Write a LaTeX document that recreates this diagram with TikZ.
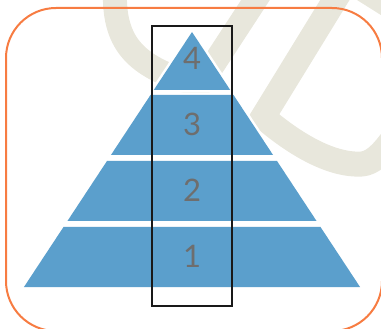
\documentclass[tikz,border=0pt]{standalone}
\usepackage{fontspec}
\setmainfont{Lato}
\definecolor{tierblue}{RGB}{91,159,204}
\definecolor{framecol}{RGB}{247,124,66}
\definecolor{markcol}{RGB}{232,231,220}
\definecolor{numgray}{RGB}{110,110,110}
\begin{document}
\begin{tikzpicture}[x=1pt, y=-1pt,
  tier/.style={fill=tierblue, draw=none, preaction={draw=white, line width=5pt}},
  tiernum/.style={text=numgray, inner sep=0pt, font=\fontsize{31}{31}\selectfont},
  frame/.style={draw=framecol, line width=2pt, rounded corners=50pt},
  watermark/.style={draw=markcol, line width=24pt},
  column/.style={draw=black!90, line width=2pt}]
\useasboundingbox (0,0) rectangle (381,329);
\clip (0,0) rectangle (381,329);
% faint logo behind
\draw[watermark] (115,-10) .. controls (113,42) and (135,64) .. (182,80) -- (200,85) -- (262,-10);
\draw[watermark, line width=25pt] (341,-10) -- (263,117) .. controls (292,142) and (330,166) .. (362,164) .. controls (372,163) and (381,155) .. (392,140);
\fill[markcol] (357,0) -- (392,22) -- (392,0) -- cycle;
% frame
\draw[frame] (6,8) rectangle (382,331);
% pyramid
\foreach \ya/\yb/\yl/\lab in {32/90/58/4, 95/155/124/3, 161/221/190/2, 227/287/256/1} {
  \pgfmathsetmacro\wa{(\ya-32)*0.659}
  \pgfmathsetmacro\wb{(\yb-32)*0.659}
  \fill[tier] (192-\wa,\ya) -- (192+\wa,\ya) -- (192+\wb,\yb) -- (192-\wb,\yb) -- cycle;
  \node[tiernum] (n\lab) at (192,\yl) {\lab};
}
% highlighted column
\draw[column] (152,26.5) rectangle (232,305.5);
\end{tikzpicture}
\end{document}
